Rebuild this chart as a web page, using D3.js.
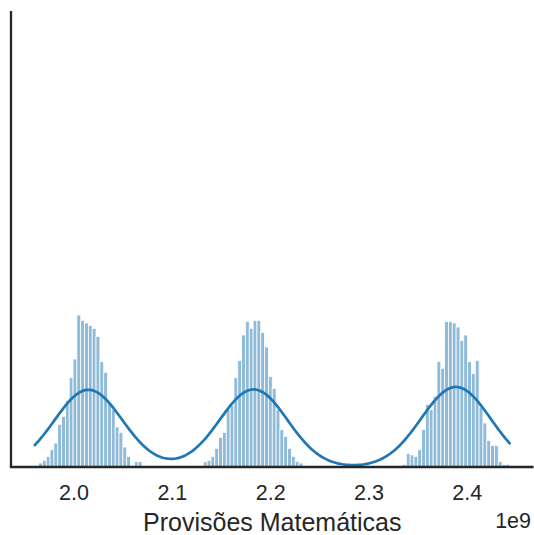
<!DOCTYPE html>
<html>
<head>
<meta charset="utf-8">
<script src="https://cdn.jsdelivr.net/npm/d3@7"></script>
<style>
  body { margin: 0; background: #fff; }
  svg { display: block; }
  text { font-family: "Liberation Sans", Arial, sans-serif; fill: #262626; }
</style>
</head>
<body>
<svg id="chart" width="534" height="535"></svg>
<script>
// Histogram range (values in units of 1e9) and number of bins
const binRange = [1.9606, 2.4437];
const binCount = 124;

// Observations per bin, left to right
const cluster1 = [1,3,5,8,13,18,32,38,50,67,81,114,110,108,106,104,98,79,71,48,43,30,26,15,8,1,4,4,1];
const gap1 = new Array(14).fill(0);
const cluster2 = [1,4,5,8,14,22,26,43,46,67,80,99,109,104,110,110,101,90,68,59,43,28,23,14,8,4,3,1];
const gap2 = new Array(24).fill(0);
const cluster3 = [1,2,10,9,8,13,28,47,43,53,79,74,109,109,108,105,95,99,79,70,80,45,33,20,16,16,4,2,2];
const counts = [...cluster1, ...gap1, ...cluster2, ...gap2, ...cluster3];

const xTicks = [2.0, 2.1, 2.2, 2.3, 2.4];
const yMax = 342;
const xLabel = "Provisões Matemáticas";
const offsetLabel = "1e9";

const svg = d3.select("#chart");
const plotLeft = 11, plotRight = 533.5, plotTop = 11, plotBottom = 467;

const binWidth = (binRange[1] - binRange[0]) / binCount;
const pad = 0.05 * (binRange[1] - binRange[0]);
const x = d3.scaleLinear().domain([binRange[0] - pad, binRange[1] + pad]).range([plotLeft, plotRight]);
const y = d3.scaleLinear().domain([0, yMax]).range([plotBottom, plotTop]);

// Histogram bars
const bins = counts.map((c, i) => ({ x0: binRange[0] + i * binWidth, x1: binRange[0] + (i + 1) * binWidth, c }));
svg.append("g")
  .selectAll("rect")
  .data(bins.filter(b => b.c > 0))
  .join("rect")
  .attr("x", d => x(d.x0))
  .attr("width", d => x(d.x1) - x(d.x0))
  .attr("y", d => y(d.c))
  .attr("height", d => y(0) - y(d.c))
  .attr("fill", "#1f77b4")
  .attr("fill-opacity", 0.5)
  .attr("stroke", "#fff")
  .attr("stroke-width", 0.8);

// Gaussian KDE (Scott's rule), scaled to counts
const centers = counts.map((c, i) => binRange[0] + (i + 0.5) * binWidth);
const N = d3.sum(counts);
const mean = d3.sum(counts, (c, i) => c * centers[i]) / N;
const variance = d3.sum(counts, (c, i) => c * (centers[i] - mean) ** 2) / (N - 1);
const bw = Math.sqrt(variance) * Math.pow(N, -1 / 5);
const gridSize = 200;
const grid = d3.range(gridSize).map(k => binRange[0] + k * (binRange[1] - binRange[0]) / (gridSize - 1));
const kde = grid.map(g => {
  const dens = d3.sum(counts, (c, i) => c * Math.exp(-0.5 * ((g - centers[i]) / bw) ** 2)) / (N * bw * Math.sqrt(2 * Math.PI));
  return [g, dens * N * binWidth];
});
svg.append("path")
  .datum(kde)
  .attr("fill", "none")
  .attr("stroke", "#1f77b4")
  .attr("stroke-width", 2.7)
  .attr("stroke-linecap", "round")
  .attr("d", d3.line().x(d => x(d[0])).y(d => y(d[1])));

// X axis labels (no tick marks)
const xAxis = svg.append("g")
  .attr("transform", `translate(0,${plotBottom})`)
  .call(d3.axisBottom(x).tickValues(xTicks).tickSize(0).tickPadding(18).tickFormat(d3.format(".1f")));
xAxis.select(".domain").remove();
xAxis.selectAll("text").attr("font-size", 21.5).style("font-family", "'Liberation Sans', Arial, sans-serif").attr("fill", "#262626");

// Spines
svg.append("line").attr("x1", plotLeft).attr("x2", plotLeft).attr("y1", plotTop).attr("y2", plotBottom)
  .attr("stroke", "#262626").attr("stroke-width", 2.3);
svg.append("line").attr("x1", plotLeft - 1.15).attr("x2", plotRight).attr("y1", plotBottom).attr("y2", plotBottom)
  .attr("stroke", "#262626").attr("stroke-width", 2.3);

// Axis label and offset text
svg.append("text")
  .attr("x", (plotLeft + plotRight) / 2).attr("y", 531)
  .attr("text-anchor", "middle").attr("font-size", 25)
  .text(xLabel);
svg.append("text")
  .attr("x", 531).attr("y", 528)
  .attr("text-anchor", "end").attr("font-size", 21.5)
  .text(offsetLabel);
</script>
</body>
</html>
